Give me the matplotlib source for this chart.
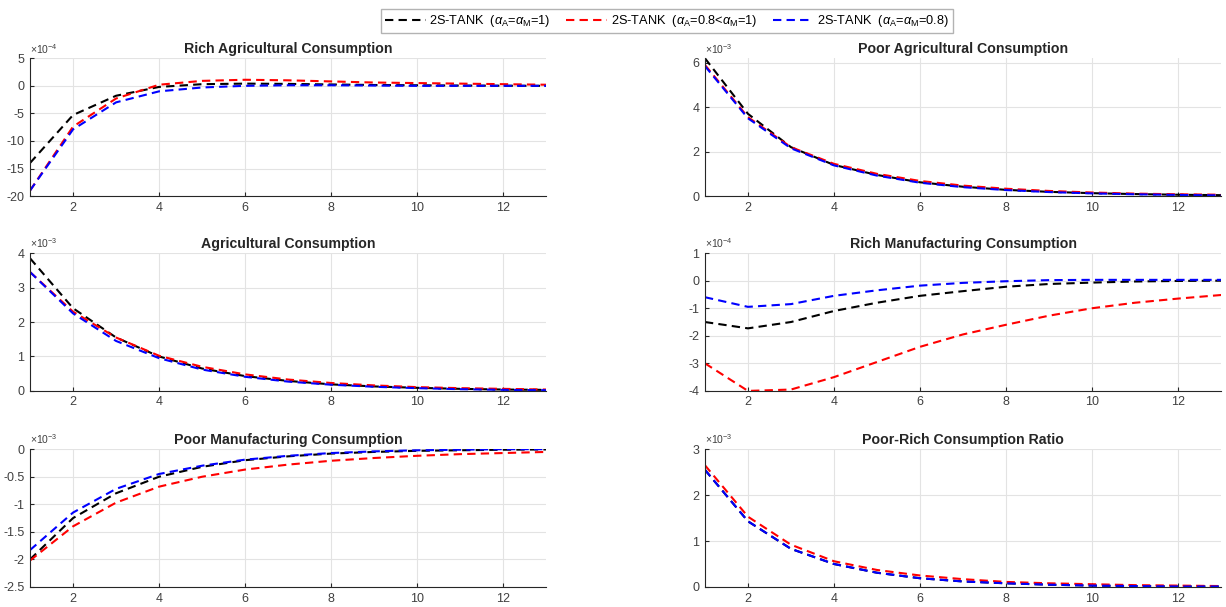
import numpy as np
import matplotlib
matplotlib.use("Agg")
import matplotlib.pyplot as plt

plt.rcParams['font.family'] = ['Liberation Sans', 'DejaVu Sans']
plt.rcParams['mathtext.fontset'] = 'custom'
plt.rcParams['mathtext.rm'] = 'Liberation Sans'
plt.rcParams['mathtext.it'] = 'Liberation Sans:italic'

periods = np.arange(1, 14)

labels = [r'2S-TANK  ($\alpha_{\rm A}$=$\alpha_{\rm M}$=1)',
          r'2S-TANK  ($\alpha_{\rm A}$=0.8<$\alpha_{\rm M}$=1)',
          r'2S-TANK  ($\alpha_{\rm A}$=$\alpha_{\rm M}$=0.8)']
colors = ['black', 'red', 'blue']

titles = ['Rich Agricultural Consumption', 'Poor Agricultural Consumption',
          'Agricultural Consumption', 'Rich Manufacturing Consumption',
          'Poor Manufacturing Consumption', 'Poor-Rich Consumption Ratio']
exponents = [-4, -3, -3, -4, -3, -3]
ylims = [(-20, 5), (0, 6.2), (0, 4), (-4, 1), (-2.5, 0), (0, 3)]
yticks = [[-20, -15, -10, -5, 0, 5], [0, 2, 4, 6], [0, 1, 2, 3, 4],
          [-4, -3, -2, -1, 0, 1], [-2.5, -2, -1.5, -1, -0.5, 0], [0, 1, 2, 3]]

# values in units of 10^exponent, order: black, red, blue
rich_ag = [[-14, -5.3, -1.8, -0.2, 0.3, 0.4, 0.35, 0.25, 0.15, 0.1, 0.05, 0.02, 0.0],
           [-19, -7.4, -2.3, 0.2, 0.9, 1.1, 1.0, 0.8, 0.6, 0.5, 0.4, 0.3, 0.2],
           [-19, -7.9, -3.0, -1.0, -0.3, 0.0, 0.1, 0.1, 0.05, 0.0, 0.0, 0.0, 0.0]]
poor_ag = [[6.2, 3.7, 2.2, 1.4, 0.95, 0.62, 0.42, 0.28, 0.19, 0.13, 0.09, 0.06, 0.04],
           [5.9, 3.55, 2.2, 1.45, 1.0, 0.68, 0.47, 0.33, 0.23, 0.16, 0.11, 0.08, 0.06],
           [5.85, 3.5, 2.15, 1.38, 0.92, 0.6, 0.4, 0.27, 0.18, 0.12, 0.08, 0.05, 0.03]]
ag = [[3.85, 2.4, 1.55, 1.0, 0.65, 0.43, 0.29, 0.19, 0.13, 0.09, 0.06, 0.04, 0.03],
      [3.45, 2.3, 1.55, 1.02, 0.7, 0.48, 0.33, 0.23, 0.16, 0.11, 0.08, 0.06, 0.04],
      [3.45, 2.25, 1.45, 0.95, 0.62, 0.41, 0.27, 0.18, 0.12, 0.08, 0.05, 0.03, 0.02]]
rich_man = [[-1.5, -1.73, -1.5, -1.1, -0.8, -0.55, -0.38, -0.22, -0.12, -0.07, -0.03, -0.01, 0.0],
            [-3.0, -4.0, -3.95, -3.5, -2.95, -2.4, -1.95, -1.6, -1.27, -1.0, -0.8, -0.65, -0.52],
            [-0.6, -0.95, -0.85, -0.55, -0.35, -0.18, -0.08, -0.02, 0.02, 0.03, 0.03, 0.03, 0.03]]
poor_man = [[-2.0, -1.25, -0.8, -0.5, -0.32, -0.2, -0.13, -0.08, -0.05, -0.03, -0.02, -0.01, -0.005],
            [-2.02, -1.4, -0.97, -0.68, -0.5, -0.37, -0.28, -0.21, -0.16, -0.12, -0.09, -0.07, -0.05],
            [-1.83, -1.15, -0.72, -0.45, -0.3, -0.19, -0.12, -0.07, -0.04, -0.02, -0.01, 0.0, 0.0]]
ratio = [[2.55, 1.43, 0.83, 0.5, 0.31, 0.19, 0.12, 0.08, 0.05, 0.03, 0.02, 0.01, 0.01],
         [2.65, 1.53, 0.92, 0.56, 0.37, 0.25, 0.17, 0.11, 0.08, 0.06, 0.04, 0.03, 0.02],
         [2.55, 1.43, 0.83, 0.5, 0.31, 0.19, 0.12, 0.08, 0.05, 0.03, 0.02, 0.01, 0.01]]

panels = [rich_ag, poor_ag, ag, rich_man, poor_man, ratio]

fig = plt.figure(figsize=(12.26, 6.07), dpi=100)

lefts = [0.0245, 0.575]
bottoms = [0.677, 0.356, 0.033]
w, h = 0.421, 0.227
axc = '#262626'

handles = []
for i, data in enumerate(panels):
    r, c = divmod(i, 2)
    ax = fig.add_axes([lefts[c], bottoms[r], w, h])
    for k in range(3):
        ln, = ax.plot(periods, data[k], color=colors[k], lw=1.5,
                      linestyle=(0, (4, 2.5)))
        if i == 0:
            handles.append(ln)
    ax.set_xlim(1, 13)
    ax.set_ylim(*ylims[i])
    ax.set_xticks([2, 4, 6, 8, 10, 12])
    ax.set_yticks(yticks[i])
    ax.set_yticklabels([('%g' % v) for v in yticks[i]])
    ax.grid(True, color='#e3e3e3', lw=0.8)
    ax.set_axisbelow(True)
    for s in ['top', 'right']:
        ax.spines[s].set_visible(False)
    for s in ['left', 'bottom']:
        ax.spines[s].set_color(axc)
        ax.spines[s].set_linewidth(0.8)
    ax.tick_params(direction='in', length=3, labelsize=9, colors=axc,
                   labelcolor='#404040', pad=4)
    ax.set_title(titles[i], fontsize=10.2, fontweight='bold', color=axc, pad=4)
    ax.text(0.0, 1.02, r'$\times10^{%d}$' % exponents[i], transform=ax.transAxes,
            fontsize=7.5, color='#404040', va='bottom', ha='left')

fig.legend(handles, labels, loc='upper center', bbox_to_anchor=(0.544, 0.995),
           ncol=3, fontsize=9.2, frameon=True, fancybox=False, edgecolor='#a0a0a0',
           handlelength=3.2, columnspacing=1.2, handletextpad=0.3, borderpad=0.3)

fig.savefig('out.png', dpi=100)
